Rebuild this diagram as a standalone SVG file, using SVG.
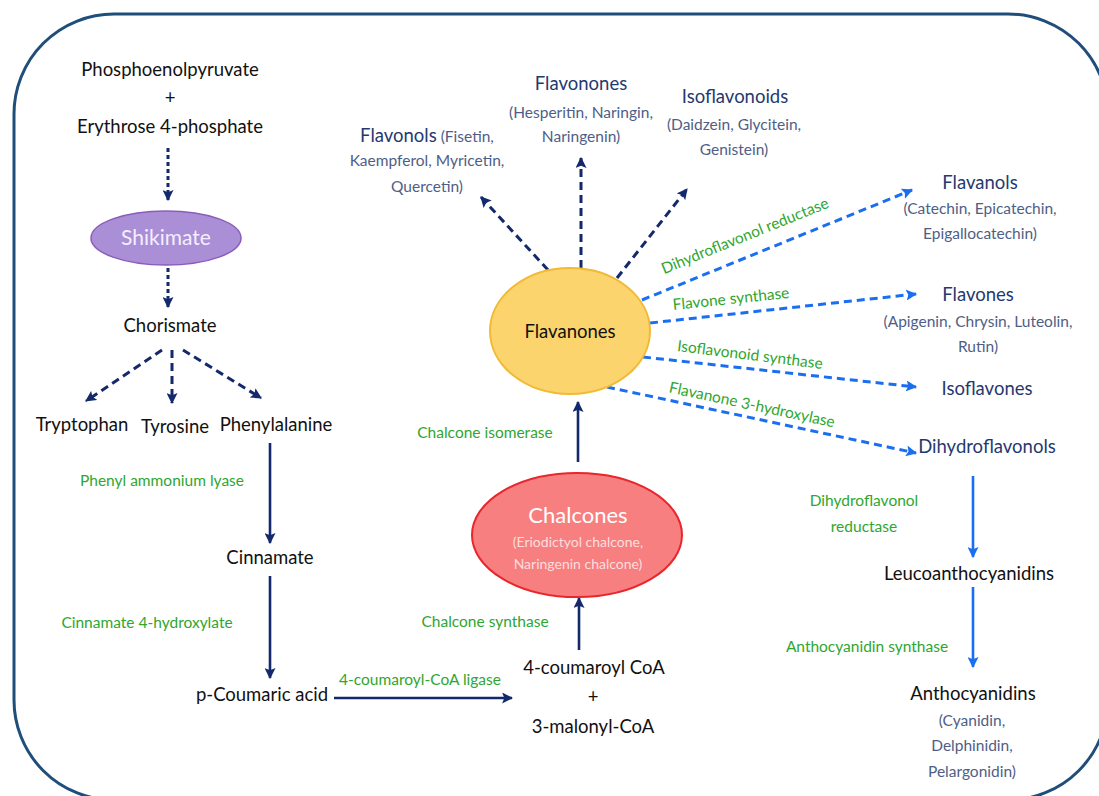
<svg xmlns="http://www.w3.org/2000/svg" width="1099" height="796" viewBox="0 0 1099 796">
<defs>
<marker id="navy" viewBox="0 0 10 10" refX="9" refY="5" markerWidth="11" markerHeight="11" markerUnits="userSpaceOnUse" orient="auto"><path d="M0,0 L10,5 L0,10 L2,5 z" fill="#13296b"/></marker>
<marker id="blue" viewBox="0 0 10 10" refX="9" refY="5" markerWidth="11" markerHeight="11" markerUnits="userSpaceOnUse" orient="auto"><path d="M0,0 L10,5 L0,10 L2,5 z" fill="#1a6ff0"/></marker>
<style>
text{font-family:Lato,"Liberation Sans",sans-serif;text-anchor:middle}
.m{font-size:18.5px;fill:#111}
.g{font-size:15.5px;fill:#2fa62f}
.t{font-size:18.5px;fill:#1f3a70}
.s{font-size:15.5px;fill:#4f5e86}
.nv{stroke:#13296b;fill:none;stroke-width:2.6;marker-end:url(#navy)}
.nd{stroke:#13296b;fill:none;stroke-width:3;stroke-dasharray:8 5;marker-end:url(#navy)}
.dt{stroke:#13296b;fill:none;stroke-width:3;stroke-dasharray:4 3;marker-end:url(#navy)}
.bd{stroke:#1a6ff0;fill:none;stroke-width:3;stroke-dasharray:8 5;marker-end:url(#blue)}
.bs{stroke:#1a6ff0;fill:none;stroke-width:2.6;marker-end:url(#blue)}
</style>
</defs>
<rect x="14" y="14" width="1094" height="786" rx="100" ry="100" fill="#fff" stroke="#1f4e7a" stroke-width="3"/>
<g id="connectors">
<path class="dt" d="M168,148 V200"/>
<path class="dt" d="M168,268 V307"/>
<path class="nd" d="M162,350 L86,401"/>
<path class="nd" d="M172,350 V403"/>
<path class="nd" d="M183,350 L261,398"/>
<path class="nv" d="M270,443 V543"/>
<path class="nv" d="M270,576 V678"/>
<path class="nv" d="M334,698 H512"/>
<path class="nv" d="M579,650 V598"/>
<path class="nv" d="M578,462 V402"/>
<path class="nd" d="M548,270 L481,197"/>
<path class="nd" d="M581,268 V158"/>
<path class="nd" d="M617,278 L687,189"/>
<path class="bd" d="M642,300 L912,190"/>
<path class="bd" d="M650,323 L916,294"/>
<path class="bd" d="M643,357 L916,387"/>
<path class="bd" d="M607,387 L916,453"/>
<path class="bs" d="M973,476 V557"/>
<path class="bs" d="M973,587 V667"/>
</g>
<g id="labels">
<text class="g" x="162" y="486">Phenyl ammonium lyase</text>
<text class="g" x="147" y="628">Cinnamate 4-hydroxylate</text>
<text class="g" x="420" y="685">4-coumaroyl-CoA ligase</text>
<text class="g" x="485" y="627">Chalcone synthase</text>
<text class="g" x="485" y="438">Chalcone isomerase</text>
<text class="g" transform="translate(745,236) rotate(-22)" y="5">Dihydroflavonol reductase</text>
<text class="g" transform="translate(731,299) rotate(-6)" y="5">Flavone synthase</text>
<text class="g" transform="translate(750,355) rotate(7)" y="5">Isoflavonoid synthase</text>
<text class="g" transform="translate(752,405) rotate(12)" y="5">Flavanone 3-hydroxylase</text>
<text class="g" x="864" y="506">Dihydroflavonol</text>
<text class="g" x="864" y="532">reductase</text>
<text class="g" x="867" y="652">Anthocyanidin synthase</text>
</g>
<g id="precursors">
<text class="m" x="170" y="76">Phosphoenolpyruvate</text>
<text class="m" x="170" y="104">+</text>
<text class="m" x="170" y="133">Erythrose 4-phosphate</text>
</g>
<g id="shikimate">
<ellipse cx="166" cy="238" rx="75" ry="27" fill="#ab8fd6" stroke="#8a5cbb" stroke-width="1.5"/>
<text x="166" y="245" style="font-size:21px;fill:#f3eeff">Shikimate</text>
</g>
<g id="chorismate"><text class="m" x="170" y="332">Chorismate</text></g>
<g id="tryptophan"><text class="m" x="82" y="431">Tryptophan</text></g>
<g id="tyrosine"><text class="m" x="175" y="433">Tyrosine</text></g>
<g id="phenylalanine"><text class="m" x="276" y="431">Phenylalanine</text></g>
<g id="cinnamate"><text class="m" x="270" y="564">Cinnamate</text></g>
<g id="pcoumaric"><text class="m" x="262" y="701">p-Coumaric acid</text></g>
<g id="coumaroyl">
<text class="m" x="594" y="674">4-coumaroyl CoA</text>
<text class="m" x="593" y="703">+</text>
<text class="m" x="593" y="733">3-malonyl-CoA</text>
</g>
<g id="chalcones">
<ellipse cx="577" cy="535" rx="105" ry="62" fill="#f77f80" stroke="#e8262b" stroke-width="2"/>
<text x="578" y="523" style="font-size:22px;fill:#fff">Chalcones</text>
<text x="578" y="547" style="font-size:14px;fill:#fcdede">(Eriodictyol chalcone,</text>
<text x="578" y="569" style="font-size:14px;fill:#fcdede">Naringenin chalcone)</text>
</g>
<g id="flavanones">
<ellipse cx="570" cy="331" rx="80" ry="63" fill="#fbd46d" stroke="#f2b935" stroke-width="2"/>
<text class="m" x="570" y="338">Flavanones</text>
</g>
<g id="flavonols">
<text x="427" y="142"><tspan class="t">Flavonols</tspan><tspan class="s"> (Fisetin,</tspan></text>
<text class="s" x="427" y="166">Kaempferol, Myricetin,</text>
<text class="s" x="427" y="192">Quercetin)</text>
</g>
<g id="flavonones">
<text class="t" x="581" y="90">Flavonones</text>
<text class="s" x="581" y="118">(Hesperitin, Naringin,</text>
<text class="s" x="581" y="142">Naringenin)</text>
</g>
<g id="isoflavonoids">
<text class="t" x="735" y="103">Isoflavonoids</text>
<text class="s" x="734" y="130">(Daidzein, Glycitein,</text>
<text class="s" x="734" y="155">Genistein)</text>
</g>
<g id="flavanols">
<text class="t" x="980" y="189">Flavanols</text>
<text class="s" x="980" y="214">(Catechin, Epicatechin,</text>
<text class="s" x="980" y="239">Epigallocatechin)</text>
</g>
<g id="flavones">
<text class="t" x="978" y="301">Flavones</text>
<text class="s" x="978" y="327">(Apigenin, Chrysin, Luteolin,</text>
<text class="s" x="978" y="352">Rutin)</text>
</g>
<g id="isoflavones"><text class="t" x="987" y="395">Isoflavones</text></g>
<g id="dihydroflavonols"><text class="t" x="987" y="453">Dihydroflavonols</text></g>
<g id="leucoanthocyanidins"><text class="m" x="969" y="580">Leucoanthocyanidins</text></g>
<g id="anthocyanidins">
<text class="m" x="973" y="700">Anthocyanidins</text>
<text class="s" x="972" y="726">(Cyanidin,</text>
<text class="s" x="972" y="751">Delphinidin,</text>
<text class="s" x="972" y="777">Pelargonidin)</text>
</g>
</svg>
